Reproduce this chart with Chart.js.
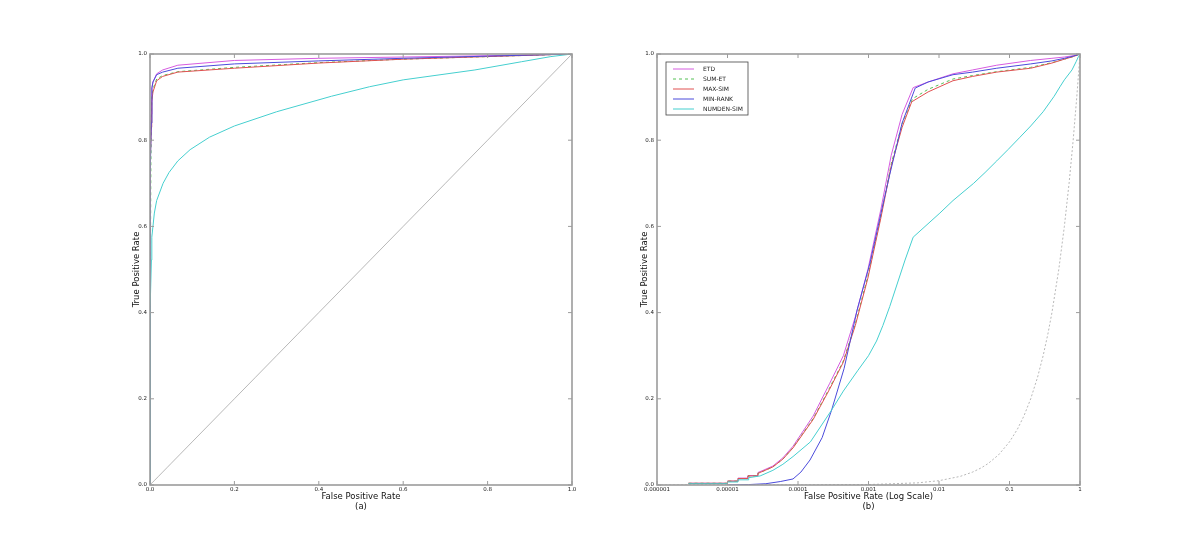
<!DOCTYPE html>
<html>
<head>
<meta charset="utf-8">
<script src="https://cdn.jsdelivr.net/npm/chart.js@4"></script>
<style>
  html, body { margin: 0; padding: 0; background: #fff; }
  #wrap { position: relative; width: 1200px; height: 540px; }
  .box { position: absolute; top: 0; width: 600px; height: 540px; }
</style>
</head>
<body>
<div id="wrap">
  <div class="box" style="left:0"><canvas id="rocLinear"></canvas></div>
  <div class="box" style="left:600px"><canvas id="rocLog"></canvas></div>
</div>
<script>
// series labels
const seriesNames = ['ETD', 'SUM-ET', 'MAX-SIM', 'MIN-RANK', 'NUMDEN-SIM'];

// tick values / labels
const linTicks = [0, 0.2, 0.4, 0.6, 0.8, 1.0];
const linLabels = ['0.0', '0.2', '0.4', '0.6', '0.8', '1.0'];
const logTicks = [0.000001, 0.00001, 0.0001, 0.001, 0.01, 0.1, 1];
const logLabels = ['0.000001', '0.00001', '0.0001', '0.001', '0.01', '0.1', '1'];

// ETD
const etdFpr = [0.0000028, 0.00001, 0.00001, 0.0000141, 0.0000141, 0.0000195, 0.0000195, 0.000027, 0.000027, 0.000032, 0.000044, 0.000061, 0.000085, 0.000164, 0.00028, 0.00044, 0.00065, 0.00098, 0.0015, 0.0021, 0.003, 0.0043, 0.007, 0.0158, 0.03, 0.066, 0.2, 0.4, 0.6, 0.8, 1];
const etdTpr = [0.004, 0.004, 0.009, 0.009, 0.016, 0.016, 0.022, 0.022, 0.029, 0.034, 0.044, 0.063, 0.09, 0.16, 0.235, 0.3, 0.39, 0.5, 0.64, 0.765, 0.86, 0.922, 0.935, 0.954, 0.963, 0.974, 0.985, 0.99, 0.993, 0.996, 1];

// SUM-ET
const sumFpr = [0.0000028, 0.00001, 0.00001, 0.0000141, 0.0000141, 0.0000195, 0.0000195, 0.000027, 0.000027, 0.000032, 0.000044, 0.000061, 0.000085, 0.000164, 0.00028, 0.00044, 0.00065, 0.00098, 0.0015, 0.0021, 0.003, 0.0042, 0.007, 0.0158, 0.03, 0.066, 0.2, 0.4, 0.6, 0.8, 1];
const sumTpr = [0.004, 0.004, 0.009, 0.009, 0.015, 0.015, 0.021, 0.021, 0.027, 0.032, 0.042, 0.06, 0.087, 0.154, 0.225, 0.288, 0.374, 0.485, 0.625, 0.745, 0.838, 0.896, 0.918, 0.942, 0.95, 0.959, 0.969, 0.98, 0.988, 0.994, 1];

// MAX-SIM
const maxFpr = [0.0000028, 0.00001, 0.00001, 0.0000141, 0.0000141, 0.0000195, 0.0000195, 0.000027, 0.000027, 0.000032, 0.000044, 0.000061, 0.000085, 0.000164, 0.00028, 0.00044, 0.00065, 0.00098, 0.0015, 0.0021, 0.003, 0.0041, 0.007, 0.0158, 0.03, 0.066, 0.2, 0.4, 0.6, 0.8, 1];
const maxTpr = [0.004, 0.004, 0.009, 0.009, 0.015, 0.015, 0.021, 0.021, 0.027, 0.032, 0.042, 0.06, 0.086, 0.152, 0.222, 0.285, 0.37, 0.48, 0.62, 0.74, 0.83, 0.889, 0.912, 0.938, 0.948, 0.958, 0.967, 0.979, 0.988, 0.994, 1];

// MIN-RANK
const minFpr = [0.00001, 0.00002, 0.000035, 0.000056, 0.000085, 0.00011, 0.000148, 0.00022, 0.0003, 0.00045, 0.00069, 0.00105, 0.0015, 0.002, 0.003, 0.0046, 0.007, 0.0158, 0.03, 0.066, 0.2, 0.4, 0.6, 0.8, 1];
const minTpr = [0, 0.001, 0.003, 0.008, 0.014, 0.03, 0.058, 0.11, 0.174, 0.27, 0.406, 0.515, 0.63, 0.72, 0.84, 0.921, 0.935, 0.952, 0.958, 0.967, 0.977, 0.984, 0.99, 0.995, 1];

// NUMDEN-SIM
const numFpr = [0.0000028, 0.00001, 0.00001, 0.0000141, 0.0000141, 0.00002, 0.00002, 0.000029, 0.000044, 0.000061, 0.000085, 0.00015, 0.0003, 0.00044, 0.0007, 0.001, 0.0013, 0.0016, 0.002, 0.0033, 0.0043, 0.0103, 0.0158, 0.031, 0.045, 0.066, 0.095, 0.141, 0.2, 0.3, 0.43, 0.52, 0.6, 0.77, 0.88, 0.95, 1];
const numTpr = [0.003, 0.003, 0.007, 0.007, 0.012, 0.012, 0.017, 0.021, 0.034, 0.048, 0.066, 0.1, 0.174, 0.218, 0.265, 0.3, 0.334, 0.37, 0.414, 0.522, 0.575, 0.631, 0.66, 0.7, 0.725, 0.752, 0.778, 0.807, 0.833, 0.866, 0.902, 0.924, 0.94, 0.963, 0.982, 0.994, 1];

// random classifier reference
const diagFpr = [0.000001, 0.00001, 0.0001, 0.001, 0.005, 0.01, 0.02, 0.03, 0.04, 0.05, 0.07, 0.1, 0.13, 0.16, 0.2, 0.25, 0.3, 0.35, 0.4, 0.5, 0.6, 0.7, 0.8, 0.9, 1];
const diagTpr = [0.000001, 0.00001, 0.0001, 0.001, 0.005, 0.01, 0.02, 0.03, 0.04, 0.05, 0.07, 0.1, 0.13, 0.16, 0.2, 0.25, 0.3, 0.35, 0.4, 0.5, 0.6, 0.7, 0.8, 0.9, 1];

const seriesFpr = [etdFpr, sumFpr, maxFpr, minFpr, numFpr];
const seriesTpr = [etdTpr, sumTpr, maxTpr, minTpr, numTpr];
const seriesColors = ['#d65ce0', '#55c055', '#e05050', '#4b4bdb', '#45cfcf'];
const seriesDash = [[], [3, 3], [], [], []];

const FONT = 'DejaVu Sans, sans-serif';

function pts(xs, ys) {
    return xs.map((x, i) => ({ x, y: ys[i] }));
}

function buildDatasets(diagDash) {
    const ds = seriesNames.map((name, i) => ({
        label: name,
        data: pts(seriesFpr[i], seriesTpr[i]),
        borderColor: seriesColors[i],
        borderWidth: 1,
        borderDash: seriesDash[i],
        pointRadius: 0,
        tension: 0,
        order: -i
    }));
    ds.push({
        label: '',
        isRef: true,
        data: pts(diagFpr, diagTpr),
        borderColor: '#9a9a9a',
        borderWidth: 0.7,
        borderDash: diagDash,
        pointRadius: 0,
        tension: 0,
        order: 1
    });
    return ds;
}

// frame + inward tick marks like matplotlib
const framePlugin = {
    id: 'frame',
    afterDraw(chart) {
        const { ctx, chartArea: a, scales } = chart;
        ctx.save();
        ctx.strokeStyle = '#9c9c9c';
        ctx.lineWidth = 1;
        const xv = chart.options.tickVals.x, yv = chart.options.tickVals.y;
        ctx.beginPath();
        xv.forEach(v => {
            const px = scales.x.getPixelForValue(v);
            ctx.moveTo(px, a.bottom); ctx.lineTo(px, a.bottom - 4);
            ctx.moveTo(px, a.top); ctx.lineTo(px, a.top + 4);
        });
        yv.forEach(v => {
            const py = scales.y.getPixelForValue(v);
            ctx.moveTo(a.left, py); ctx.lineTo(a.left + 4, py);
            ctx.moveTo(a.right, py); ctx.lineTo(a.right - 4, py);
        });
        ctx.stroke();
        ctx.lineWidth = 1.6;
        ctx.strokeRect(a.left, a.top, a.right - a.left, a.bottom - a.top);
        ctx.restore();
    }
};

// legend box in the upper left of the plot
const boxLegend = {
    id: 'boxLegend',
    afterDatasetsDraw(chart) {
        if (!chart.options.showBox) return;
        const { ctx, chartArea: a } = chart;
        const items = chart.data.datasets.filter(d => !d.isRef);
        const x0 = a.left + 9, y0 = a.top + 8;
        ctx.save();
        ctx.fillStyle = '#fff';
        ctx.fillRect(x0, y0, 82, 53);
        ctx.strokeStyle = '#444';
        ctx.lineWidth = 0.8;
        ctx.strokeRect(x0, y0, 82, 53);
        ctx.font = '6px ' + FONT;
        ctx.textBaseline = 'middle';
        items.forEach((d, i) => {
            const y = y0 + 7 + i * 10;
            ctx.strokeStyle = d.borderColor;
            ctx.lineWidth = 1;
            ctx.setLineDash(d.borderDash || []);
            ctx.beginPath();
            ctx.moveTo(x0 + 7, y); ctx.lineTo(x0 + 28, y);
            ctx.stroke();
            ctx.setLineDash([]);
            ctx.fillStyle = '#222';
            ctx.fillText(d.label, x0 + 37, y);
        });
        ctx.restore();
    }
};

function makeOptions(xScale, yTitleLeft, xTitle, padLeft, padRight, yWidth, yTitlePad, showBox) {
    return {
        responsive: false,
        animation: false,
        showBox,
        tickVals: { x: xScale.type === 'logarithmic' ? logTicks : linTicks, y: linTicks },
        layout: { padding: { left: padLeft, right: padRight, top: 54, bottom: 20 } },
        plugins: { legend: { display: false }, tooltip: { enabled: false } },
        scales: {
            x: Object.assign({
                grid: { display: false, drawTicks: false },
                border: { display: false },
                title: {
                    display: true,
                    text: xTitle,
                    color: '#111',
                    font: { family: FONT, size: 8.5, lineHeight: 1.1 },
                    padding: { top: 0, bottom: 9 }
                },
                afterFit(scale) { scale.height = 35; }
            }, xScale),
            y: {
                type: 'linear',
                min: 0, max: 1,
                grid: { display: false, drawTicks: false },
                border: { display: false },
                afterBuildTicks(scale) { scale.ticks = linTicks.map(v => ({ value: v })); },
                ticks: {
                    padding: 3,
                    color: '#222',
                    font: { family: FONT, size: 5.5 },
                    callback: (v) => linLabels[linTicks.indexOf(v)]
                },
                title: {
                    display: true,
                    text: yTitleLeft,
                    color: '#111',
                    font: { family: FONT, size: 8.5 },
                    padding: { top: yTitlePad, bottom: 0 }
                },
                afterFit(scale) { scale.width = yWidth; }
            }
        }
    };
}

document.addEventListener('DOMContentLoaded', () => {
    const c1 = document.getElementById('rocLinear');
    c1.width = 600; c1.height = 540;
    new Chart(c1.getContext('2d'), {
        type: 'line',
        data: { datasets: buildDatasets([]) },
        options: makeOptions({
            type: 'linear', min: 0, max: 1,
            afterBuildTicks(scale) { scale.ticks = linTicks.map(v => ({ value: v })); },
            ticks: {
                padding: 1, color: '#222', maxRotation: 0, autoSkip: false,
                font: { family: FONT, size: 5.5 },
                callback: (v) => linLabels[linTicks.indexOf(v)]
            }
        }, 'True Positive Rate', ['False Positive Rate', '(a)'], 130, 28, 20, 2, false),
        plugins: [framePlugin, boxLegend]
    });

    const c2 = document.getElementById('rocLog');
    c2.width = 600; c2.height = 540;
    new Chart(c2.getContext('2d'), {
        type: 'line',
        data: { datasets: buildDatasets([2, 2]) },
        options: makeOptions({
            type: 'logarithmic', min: 0.000001, max: 1,
            afterBuildTicks(scale) { scale.ticks = logTicks.map(v => ({ value: v })); },
            ticks: {
                padding: 1, color: '#222', maxRotation: 0, autoSkip: false,
                font: { family: FONT, size: 5.5 },
                callback: (v) => logLabels[logTicks.findIndex(t => Math.abs(t - v) / t < 1e-6)]
            }
        }, 'True Positive Rate', ['False Positive Rate (Log Scale)', '(b)'], 37, 120, 20, 3, true),
        plugins: [framePlugin, boxLegend]
    });
});
</script>
</body>
</html>
